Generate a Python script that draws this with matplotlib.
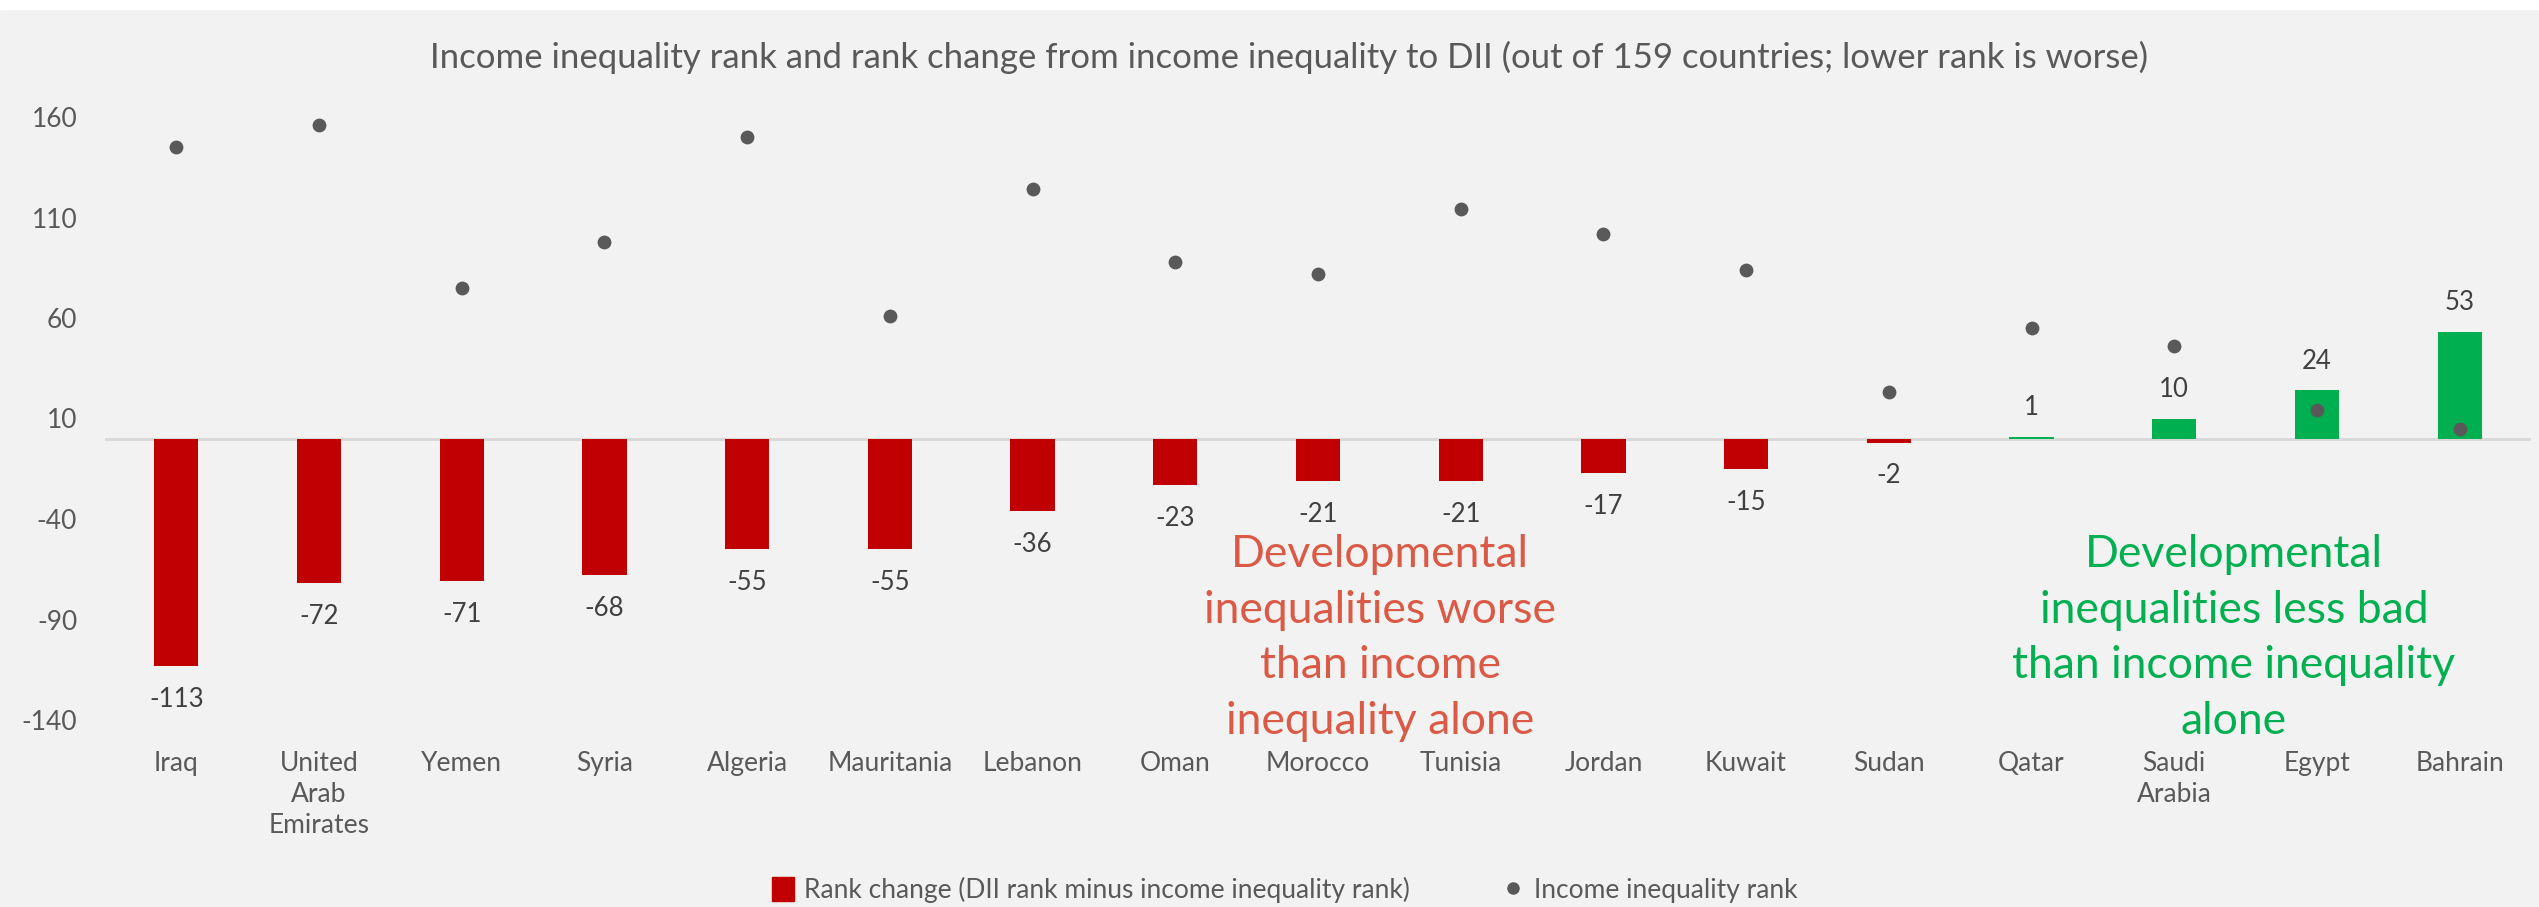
import numpy as np
import matplotlib
matplotlib.use("Agg")
import matplotlib.pyplot as plt
from matplotlib.patches import Patch, Rectangle
from matplotlib.lines import Line2D

plt.rcParams['font.family'] = ['Lato', 'DejaVu Sans']
plt.rcParams['axes.unicode_minus'] = False

countries = ["Iraq", "United\nArab\nEmirates", "Yemen", "Syria", "Algeria", "Mauritania",
             "Lebanon", "Oman", "Morocco", "Tunisia", "Jordan", "Kuwait", "Sudan",
             "Qatar", "Saudi\nArabia", "Egypt", "Bahrain"]
rank_change = [-113, -72, -71, -68, -55, -55, -36, -23, -21, -21, -17, -15, -2, 1, 10, 24, 53]
income_rank = [145, 156, 75, 98, 150, 61, 124, 88, 82, 114, 102, 84, 23, 55, 46, 14, 5]
y_ticks = [160, 110, 60, 10, -40, -90, -140]

RED = "#C00000"
GREEN = "#00B050"
DOT = "#595959"
TXT = "#595959"

fig = plt.figure(figsize=(25.39, 9.07), dpi=100, facecolor="#F2F2F2")
fig.patches.append(Rectangle((0, 1 - 9 / 907), 1, 9 / 907, transform=fig.transFigure,
                             color="white", zorder=0))
ax = fig.add_axes([105 / 2539, 1 - 720 / 907, (2531 - 105) / 2539, (720 - 117) / 907])
ax.set_facecolor("#F2F2F2")

x = np.arange(len(countries))
colors = [RED if v < 0 else GREEN for v in rank_change]
ax.bar(x, rank_change, width=0.31, color=colors, zorder=2)
ax.axhline(0, color="#D9D9D9", lw=2.2, zorder=1)
ax.scatter(x, income_rank, s=80, color=DOT, zorder=3)

for xi, v in zip(x, rank_change):
    off = -24 if v < 0 else 21
    ax.annotate(str(v), (xi, v), xytext=(0, off), textcoords="offset points",
                ha="center", va="center", fontsize=18.5, color="#404040")

ax.set_xlim(-0.5, len(countries) - 0.5)
ax.set_ylim(-140, 160)
ax.set_yticks(y_ticks)
ax.set_xticks(x)
ax.set_xticklabels(countries, linespacing=1.32, va="top")
ax.tick_params(axis="both", length=0, labelsize=19, labelcolor=TXT)
ax.tick_params(axis="x", pad=22)
ax.tick_params(axis="y", pad=20)
for s in ax.spines.values():
    s.set_visible(False)

fig.text(1289 / 2539, 1 - 57 / 907,
         "Income inequality rank and rank change from income inequality to DII "
         "(out of 159 countries; lower rank is worse)",
         ha="center", va="center", fontsize=25, color=TXT)

fig.text(1380 / 2539, 1 - 638 / 907,
         "Developmental\ninequalities worse\nthan income\ninequality alone",
         ha="center", va="center", fontsize=32, color="#DA5A45", linespacing=1.45)
fig.text(2234 / 2539, 1 - 638 / 907,
         "Developmental\ninequalities less bad\nthan income inequality\nalone",
         ha="center", va="center", fontsize=32, color=GREEN, linespacing=1.45)

handles = [Patch(color=RED, label="Rank change (DII rank minus income inequality rank)"),
           Line2D([], [], marker="o", ls="none", color=DOT, markersize=8,
                  label="Income inequality rank")]
fig.legend(handles=handles, loc="center", bbox_to_anchor=(1285 / 2539, 1 - 890 / 907),
           ncol=2, frameon=False, fontsize=19, labelcolor=TXT, handlelength=0.8,
           handletextpad=0.4, columnspacing=3.5, handleheight=1.0)

fig.savefig("out.png", dpi=100, facecolor=fig.get_facecolor())
